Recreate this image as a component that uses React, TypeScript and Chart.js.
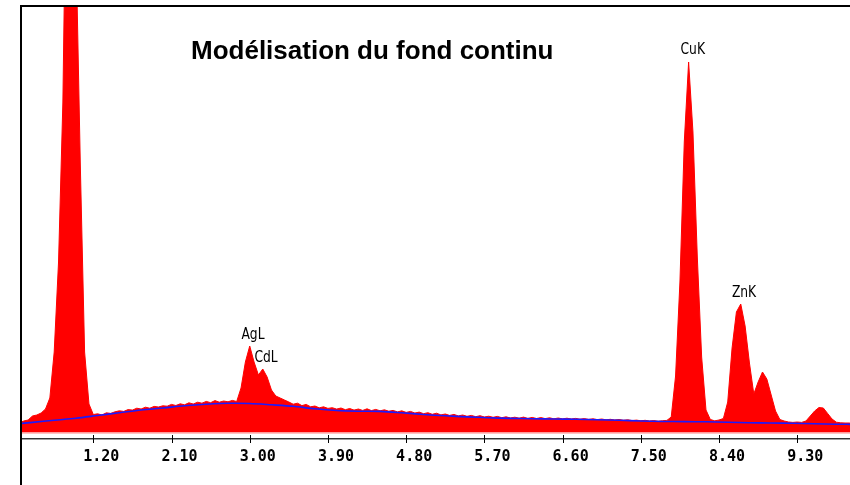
import React, { useEffect, useRef } from "react";
import { Chart, registerables } from "chart.js";

Chart.register(...registerables);

// Energy channels (keV) of the spectrum
const energies = [
  0.35, 0.4, 0.45, 0.5, 0.55, 0.6, 0.65, 0.7, 0.75, 0.8, 0.85, 0.9, 0.95, 1.0, 1.05, 1.1, 1.15,
  1.2, 1.25, 1.3, 1.35, 1.4, 1.45, 1.5, 1.55, 1.6, 1.65, 1.7, 1.75, 1.8, 1.85, 1.9, 1.95,
  2.0, 2.05, 2.1, 2.15, 2.2, 2.25, 2.3, 2.35, 2.4, 2.45, 2.5, 2.55, 2.6, 2.65, 2.7, 2.75,
  2.8, 2.85, 2.9, 2.95, 3.0, 3.05, 3.1, 3.15, 3.2, 3.25, 3.3, 3.35, 3.4, 3.45, 3.5, 3.55,
  3.6, 3.65, 3.7, 3.75, 3.8, 3.85, 3.9, 3.95, 4.0, 4.05, 4.1, 4.15, 4.2, 4.25, 4.3, 4.35,
  4.4, 4.45, 4.5, 4.55, 4.6, 4.65, 4.7, 4.75, 4.8, 4.85, 4.9, 4.95, 5.0, 5.05, 5.1, 5.15,
  5.2, 5.25, 5.3, 5.35, 5.4, 5.45, 5.5, 5.55, 5.6, 5.65, 5.7, 5.75, 5.8, 5.85, 5.9, 5.95,
  6.0, 6.05, 6.1, 6.15, 6.2, 6.25, 6.3, 6.35, 6.4, 6.45, 6.5, 6.55, 6.6, 6.65, 6.7, 6.75,
  6.8, 6.85, 6.9, 6.95, 7.0, 7.05, 7.1, 7.15, 7.2, 7.25, 7.3, 7.35, 7.4, 7.45, 7.5, 7.55,
  7.6, 7.65, 7.7, 7.75, 7.8, 7.85, 7.9, 7.95, 8.0, 8.05, 8.1, 8.15, 8.2, 8.25, 8.3, 8.35,
  8.4, 8.45, 8.5, 8.55, 8.6, 8.65, 8.7, 8.75, 8.8, 8.85, 8.9, 8.95, 9.0, 9.05, 9.1, 9.15,
  9.2, 9.25, 9.3, 9.35, 9.4, 9.45, 9.5, 9.55, 9.6, 9.65, 9.7, 9.75, 9.8, 9.85, 9.9, 9.95,
];

// Measured counts per channel
const counts = [
  90, 110, 120, 160, 170, 190, 230, 340, 800, 1700, 3300, 6500, 7000, 4900, 2700, 800, 280,
  175, 182, 170, 192, 186, 202, 212, 206, 224, 219, 238, 230, 248, 238, 256, 250,
  262, 258, 276, 265, 282, 272, 292, 280, 298, 288, 306, 293, 314, 298, 310, 302,
  316, 305, 440, 700, 860, 700, 570, 630, 550, 420, 360, 340, 320, 300, 278, 288,
  264, 276, 252, 260, 242, 252, 236, 243, 229, 240, 223, 235, 219, 230, 216, 232,
  214, 226, 212, 222, 208, 216, 201, 212, 196, 206, 190, 199, 183, 193, 177, 188,
  171, 180, 166, 176, 161, 170, 157, 166, 153, 163, 150, 158, 147, 156, 143, 152,
  140, 148, 138, 149, 136, 146, 135, 144, 134, 142, 132, 140, 131, 138, 130, 136,
  128, 134, 126, 132, 124, 130, 122, 127, 120, 125, 117, 122, 114, 119, 112, 117,
  110, 114, 108, 113, 116, 150, 560, 1500, 2900, 3700, 3000, 1750, 750, 220, 125, 112,
  120, 135, 300, 840, 1200, 1280, 1060, 690, 380, 500, 600, 530, 370, 210, 125, 110,
  100, 96, 100, 96, 110, 160, 210, 245, 240, 185, 130, 98, 92, 90, 90, 90,
];

// Continuous background model
const bgEnergies = [
  0.25, 0.5, 0.75, 1.0, 1.25, 1.5, 1.75, 2.0, 2.25, 2.5, 2.75, 3.0, 3.25, 3.5, 3.75, 4.0,
  4.25, 4.5, 4.75, 5.0, 5.25, 5.5, 5.75, 6.0, 6.25, 6.5, 6.75, 7.0, 7.25, 7.5, 7.75, 8.0,
  8.25, 8.5, 8.75, 9.0, 9.25, 9.5, 9.75, 10.0,
];
const bgCounts = [
  77, 96, 118, 138, 165, 192, 220, 240, 262, 277, 287, 285, 272, 257, 232, 215,
  208, 206, 192, 175, 162, 151, 143, 136, 133, 130, 127, 122, 117, 110, 105, 104,
  102, 98, 93, 90, 87, 83, 78, 76,
];

const tickValues = [1.2, 2.1, 3.0, 3.9, 4.8, 5.7, 6.6, 7.5, 8.4, 9.3];
const tickLabels = ["1.20", "2.10", "3.00", "3.90", "4.80", "5.70", "6.60", "7.50", "8.40", "9.30"];

const peakNames = ["CuK", "ZnK", "AgL", "CdL"];
const peakEnergies = [8.04, 8.63, 2.98, 3.13];
const peakCounts = [3720, 1290, 870, 640];

const chartTitle = "Modélisation du fond continu";

const decorPlugin = {
  id: "decor",
  afterDatasetsDraw(chart: any) {
    const { ctx, chartArea: ca, scales } = chart;
    const xs = scales.x;
    const ys = scales.y;
    ctx.save();
    // pink strip under the spectrum
    const y0 = ys.getPixelForValue(0);
    ctx.fillStyle = "#ff9a9a";
    ctx.fillRect(ca.left, y0, ca.right - ca.left, 1.6);
    // axis line
    ctx.fillStyle = "#333333";
    ctx.fillRect(ca.left, ca.bottom, ca.right - ca.left, 1);
    ctx.fillStyle = "#a0a0a0";
    ctx.fillRect(ca.left, ca.bottom + 1, ca.right - ca.left, 1);
    // tick marks
    ctx.fillStyle = "#000";
    tickValues.forEach((v) => {
      const px = Math.round(xs.getPixelForValue(v));
      ctx.fillRect(px, ca.bottom - 3, 1, 8);
    });
    // frame
    ctx.fillStyle = "#000";
    ctx.fillRect(ca.left - 2, ca.top - 2, 2, chart.height - ca.top + 2);
    ctx.fillRect(ca.left - 2, ca.top - 2, chart.width - ca.left + 2, 2);
    // title
    ctx.fillStyle = "#000";
    ctx.font = 'bold 26px "Liberation Sans", Arial, sans-serif';
    ctx.textAlign = "left";
    ctx.textBaseline = "alphabetic";
    ctx.fillText(chartTitle, 191, 59);
    // peak labels
    ctx.font = '15px "DejaVu Sans", sans-serif';
    ctx.textAlign = "center";
    peakNames.forEach((name, i) => {
      const px = xs.getPixelForValue(peakEnergies[i]) + 5;
      const py = ys.getPixelForValue(peakCounts[i]) - 6;
      ctx.save();
      ctx.translate(px, py);
      ctx.scale(0.82, 1);
      ctx.fillText(name, 0, 0);
      ctx.restore();
    });
    ctx.restore();
  },
};

export default function App() {
  const ref = useRef<HTMLCanvasElement | null>(null);
  useEffect(() => {
    if (!ref.current) return;
    const chart = new Chart(ref.current, {
      type: "line",
      data: {
        datasets: [
          {
            label: "Fond continu",
            data: bgEnergies.map((e, i) => ({ x: e, y: bgCounts[i] })),
            borderColor: "#1a1aff",
            borderWidth: 1.6,
            pointRadius: 0,
            fill: false,
            tension: 0.3,
            order: 0,
            clip: 0,
          },
          {
            label: "Spectre",
            data: energies.map((e, i) => ({ x: e, y: counts[i] })),
            borderColor: "#ff0000",
            backgroundColor: "#ff0000",
            borderWidth: 1,
            pointRadius: 0,
            fill: "origin",
            tension: 0,
            order: 1,
            clip: 0,
          },
        ],
      },
      options: {
        animation: false,
        responsive: false,
        devicePixelRatio: 1,
        layout: { padding: { left: 22, top: 7, right: 0, bottom: 0 } },
        plugins: { legend: { display: false }, tooltip: { enabled: false }, title: { display: false } },
        scales: {
          x: {
            type: "linear",
            min: 0.3796,
            max: 9.907,
            grid: { display: false, drawTicks: false },
            border: { display: false },
            afterFit: (scale: any) => {
              scale.height = 47;
            },
            afterBuildTicks: (scale: any) => {
              scale.ticks = tickValues.map((v) => ({ value: v }));
            },
            ticks: {
              autoSkip: false,
              maxRotation: 0,
              padding: 10,
              labelOffset: 8,
              color: "#000",
              font: { family: '"DejaVu Sans Mono", monospace', size: 15, weight: "bold" },
              callback: (_v: any, idx: number) => tickLabels[idx],
            },
          },
          y: {
            display: false,
            min: -60,
            max: 4250,
          },
        },
      },
      plugins: [decorPlugin],
    });
    return () => chart.destroy();
  }, []);
  return (
    <div style={{ position: "fixed", left: 0, top: 0, width: 850, height: 485, background: "#fff" }}>
      <canvas ref={ref} width={850} height={485} style={{ width: 850, height: 485 }} />
    </div>
  );
}
